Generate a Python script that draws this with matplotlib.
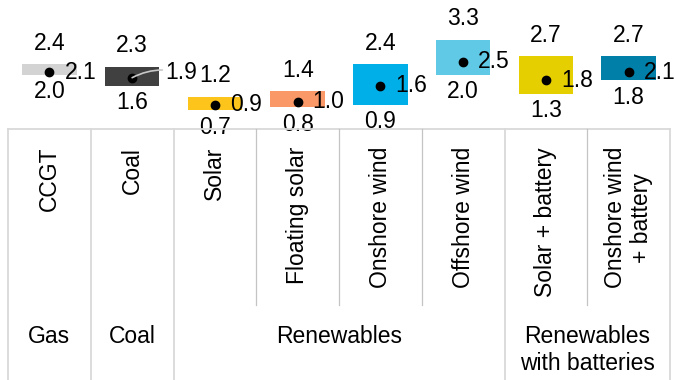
import matplotlib
matplotlib.use("Agg")
import matplotlib.pyplot as plt

plt.rcParams['font.family'] = ['Liberation Sans', 'DejaVu Sans']

# Cost ranges per technology (low / central / high)
categories = ["CCGT", "Coal", "Solar", "Floating solar", "Onshore wind",
              "Offshore wind", "Solar + battery", "Onshore wind\n+ battery"]
low = [2.0, 1.6, 0.7, 0.8, 0.9, 2.0, 1.3, 1.8]
mid = [2.1, 1.9, 0.9, 1.0, 1.6, 2.5, 1.8, 2.1]
high = [2.4, 2.3, 1.2, 1.4, 2.4, 3.3, 2.7, 2.7]
colors = ["#d3d3d3", "#404040", "#fdc41c", "#fa9868", "#00aee8",
          "#60c9e6", "#e6cf00", "#0080a8"]

groups = ["Gas", "Coal", "Renewables", "Renewables\nwith batteries"]
group_sizes = [1, 1, 4, 2]

W, H = 674, 380
top_px = 129          # height of the plotting strip above the table
px_per_unit = 27.0

fig = plt.figure(figsize=(W / 100, H / 100), dpi=100)
left, right = 8, 670
ax = fig.add_axes([left / W, 1 - top_px / H, (right - left) / W, top_px / H])
ax.set_xlim(0, len(categories))
ax.set_ylim(0, top_px / px_per_unit)
ax.axis("off")

xs = [i + 0.5 for i in range(len(categories))]
ax.bar(xs, [h - l for h, l in zip(high, low)], bottom=low, width=0.66,
       color=colors, zorder=2)
ax.plot(xs, mid, "o", color="black", ms=6, zorder=3)

fs = 16.5
pt = 0.72  # points per pixel at 100 dpi
for name, x, l, m, h in zip(categories, xs, low, mid, high):
    ax.annotate(f"{h:.1f}", (x, h), xytext=(0, 21 * pt), textcoords="offset points",
                ha="center", va="center", fontsize=fs, annotation_clip=False)
    ax.annotate(f"{l:.1f}", (x, l), xytext=(0, -17 * pt), textcoords="offset points",
                ha="center", va="center", fontsize=fs, annotation_clip=False)
    if name == "Coal":
        # label pushed clear of the bar, with a thin leader back to the dot
        ax.annotate(f"{m:.1f}", (x, m), xytext=(33 * pt, 5 * pt),
                    textcoords="offset points", ha="left", va="center",
                    fontsize=fs, annotation_clip=False,
                    arrowprops=dict(arrowstyle="-", color="#c8c8c8", lw=1.2,
                                    shrinkA=0, shrinkB=0,
                                    connectionstyle="arc3,rad=0.2"))
    else:
        ax.annotate(f"{m:.1f}", (x, m), xytext=(15 * pt, 0), textcoords="offset points",
                    ha="left", va="center", fontsize=fs, annotation_clip=False)

# category / group table below the strip
tb_h = H - top_px
tb = fig.add_axes([left / W, 0, (right - left) / W, tb_h / H])
tb.set_xlim(0, len(categories))
tb.set_ylim(tb_h, 0)
tb.axis("off")

line_kw = dict(color="#d9d9d9", lw=1.3, clip_on=False)
tb.plot([0, len(categories)], [0, 0], **line_kw)

bounds = [0]
for n in group_sizes:
    bounds.append(bounds[-1] + n)
for b in bounds:
    tb.plot([b, b], [0, tb_h], **line_kw)
for i in range(1, len(categories)):
    if i not in bounds:
        tb.plot([i, i], [0, 305 - top_px], color="#c4c4c4", lw=0.9, clip_on=False)

for x, name in zip(xs, categories):
    tb.text(x, 147 - top_px, name, rotation=90, ha="center", va="top",
            multialignment="center", fontsize=fs, linespacing=1.2)

for g, a, b in zip(groups, bounds[:-1], bounds[1:]):
    tb.text((a + b) / 2, 325 - top_px, g, ha="center", va="top",
            multialignment="center", fontsize=fs, linespacing=1.2)

fig.savefig("out.png", dpi=100)
